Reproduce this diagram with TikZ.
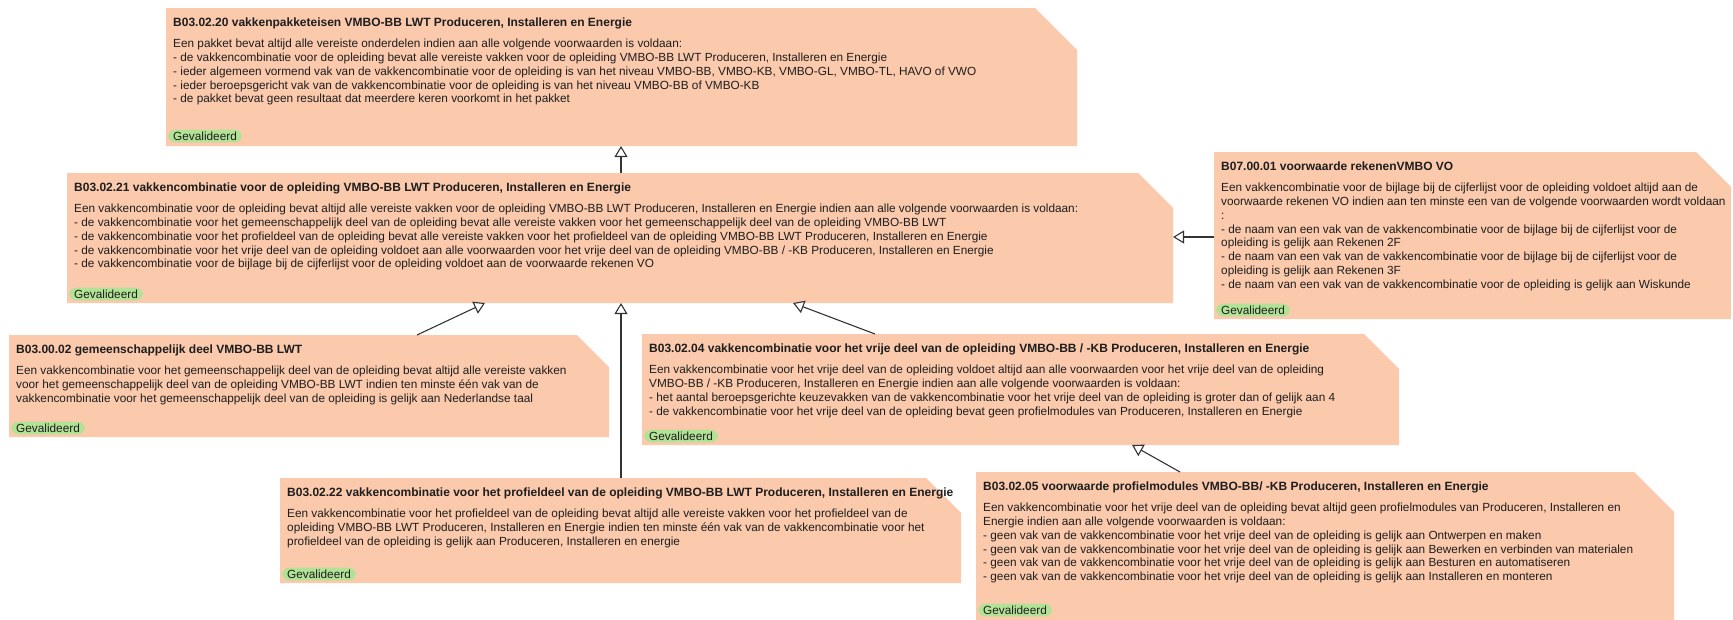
\documentclass[tikz,border=0pt]{standalone}
\usepackage{fontspec}
\setmainfont{Liberation Sans}
\usetikzlibrary{arrows.meta,calc}
\definecolor{boxfill}{RGB}{251,201,172}
\definecolor{badgegreen}{RGB}{178,226,150}
\definecolor{txt}{RGB}{30,30,30}
\newcommand\umlbox[6]{%
  \node[anchor=north west,minimum width=#4pt,minimum height=#5pt,inner sep=0pt,outer sep=0pt] (#1) at (#2,#3) {};
  \fill[boxfill] (#1.north west) -- ([xshift=-#6pt]#1.north east) -- ([yshift=-#6pt]#1.north east) -- (#1.south east) -- (#1.south west) -- cycle;}
\tikzset{
  ttl/.style={font=\fontsize{12}{14}\selectfont\bfseries, text=txt, inner sep=0pt, anchor=base west},
  bodytext/.style={font=\fontsize{11.8}{13.8}\selectfont, text=txt, align=left, inner sep=0pt, anchor=north west},
  gvbadge/.style={fill=badgegreen, rounded corners=7pt, font=\fontsize{11.8}{14}\selectfont, text=txt, inner xsep=5pt, inner ysep=2pt, anchor=west},
  gen/.style={draw=black!80, line width=1.1pt, -{Triangle[open, length=11pt, width=13pt, fill=white]}}
}
\begin{document}
\begin{tikzpicture}[x=1pt,y=-1pt]
\useasboundingbox (0,0) rectangle (1733,619);
% boxes
\umlbox{b1}{166}{8}{911}{138}{42}
\umlbox{b2}{67}{173}{1106}{130}{35}
\umlbox{b3}{1214}{152}{517}{167}{35}
\umlbox{b4}{9}{335}{600}{102}{32}
\umlbox{b5}{642}{334}{757}{111}{35}
\umlbox{b6}{280}{478}{681}{105}{35}
\umlbox{b7}{976}{472}{698}{170}{40}
% box 1
\node[ttl] (t1) at ($(b1.north west)+(7,18)$) {B03.02.20 vakkenpakketeisen VMBO-BB LWT Produceren, Installeren en Energie};
\node[bodytext] (d1) at ($(b1.north west)+(7,31)$) {Een pakket bevat altijd alle vereiste onderdelen indien aan alle volgende voorwaarden is voldaan:\\
- de vakkencombinatie voor de opleiding bevat alle vereiste vakken voor de opleiding VMBO-BB LWT Produceren, Installeren en Energie\\
- ieder algemeen vormend vak van de vakkencombinatie voor de opleiding is van het niveau VMBO-BB, VMBO-KB, VMBO-GL, VMBO-TL, HAVO of VWO\\
- ieder beroepsgericht vak van de vakkencombinatie voor de opleiding is van het niveau VMBO-BB of VMBO-KB\\
- de pakket bevat geen resultaat dat meerdere keren voorkomt in het pakket};
\node[gvbadge] (g1) at ($(b1.south west)+(2,-10)$) {Gevalideerd};
% box 2
\node[ttl] (t2) at ($(b2.north west)+(7,18)$) {B03.02.21 vakkencombinatie voor de opleiding VMBO-BB LWT Produceren, Installeren en Energie};
\node[bodytext] (d2) at ($(b2.north west)+(7,31)$) {Een vakkencombinatie voor de opleiding bevat altijd alle vereiste vakken voor de opleiding VMBO-BB LWT Produceren, Installeren en Energie indien aan alle volgende voorwaarden is voldaan:\\
- de vakkencombinatie voor het gemeenschappelijk deel van de opleiding bevat alle vereiste vakken voor het gemeenschappelijk deel van de opleiding VMBO-BB LWT\\
- de vakkencombinatie voor het profieldeel van de opleiding bevat alle vereiste vakken voor het profieldeel van de opleiding VMBO-BB LWT Produceren, Installeren en Energie\\
- de vakkencombinatie voor het vrije deel van de opleiding voldoet aan alle voorwaarden voor het vrije deel van de opleiding VMBO-BB / -KB Produceren, Installeren en Energie\\
- de vakkencombinatie voor de bijlage bij de cijferlijst voor de opleiding voldoet aan de voorwaarde rekenen VO};
\node[gvbadge] (g2) at ($(b2.south west)+(2,-9)$) {Gevalideerd};
% box 3
\node[ttl] (t3) at ($(b3.north west)+(7,18)$) {B07.00.01 voorwaarde rekenenVMBO VO};
\node[bodytext] (d3) at ($(b3.north west)+(7,31)$) {Een vakkencombinatie voor de bijlage bij de cijferlijst voor de opleiding voldoet altijd aan de\\
voorwaarde rekenen VO indien aan ten minste een van de volgende voorwaarden wordt voldaan\\
:\\
- de naam van een vak van de vakkencombinatie voor de bijlage bij de cijferlijst voor de\\
opleiding is gelijk aan Rekenen 2F\\
- de naam van een vak van de vakkencombinatie voor de bijlage bij de cijferlijst voor de\\
opleiding is gelijk aan Rekenen 3F\\
- de naam van een vak van de vakkencombinatie voor de opleiding is gelijk aan Wiskunde};
\node[gvbadge] (g3) at ($(b3.south west)+(2,-9)$) {Gevalideerd};
% box 4
\node[ttl] (t4) at ($(b4.north west)+(7,18)$) {B03.00.02 gemeenschappelijk deel VMBO-BB LWT};
\node[bodytext] (d4) at ($(b4.north west)+(7,31)$) {Een vakkencombinatie voor het gemeenschappelijk deel van de opleiding bevat altijd alle vereiste vakken\\
voor het gemeenschappelijk deel van de opleiding VMBO-BB LWT indien ten minste één vak van de\\
vakkencombinatie voor het gemeenschappelijk deel van de opleiding is gelijk aan Nederlandse taal};
\node[gvbadge] (g4) at ($(b4.south west)+(2,-9)$) {Gevalideerd};
% box 5
\node[ttl] (t5) at ($(b5.north west)+(7,18)$) {B03.02.04 vakkencombinatie voor het vrije deel van de opleiding VMBO-BB / -KB Produceren, Installeren en Energie};
\node[bodytext] (d5) at ($(b5.north west)+(7,31)$) {Een vakkencombinatie voor het vrije deel van de opleiding voldoet altijd aan alle voorwaarden voor het vrije deel van de opleiding\\
VMBO-BB / -KB Produceren, Installeren en Energie indien aan alle volgende voorwaarden is voldaan:\\
- het aantal beroepsgerichte keuzevakken van de vakkencombinatie voor het vrije deel van de opleiding is groter dan of gelijk aan 4\\
- de vakkencombinatie voor het vrije deel van de opleiding bevat geen profielmodules van Produceren, Installeren en Energie};
\node[gvbadge] (g5) at ($(b5.south west)+(2,-9)$) {Gevalideerd};
% box 6
\node[ttl] (t6) at ($(b6.north west)+(7,18)$) {B03.02.22 vakkencombinatie voor het profieldeel van de opleiding VMBO-BB LWT Produceren, Installeren en Energie};
\node[bodytext] (d6) at ($(b6.north west)+(7,31)$) {Een vakkencombinatie voor het profieldeel van de opleiding bevat altijd alle vereiste vakken voor het profieldeel van de\\
opleiding VMBO-BB LWT Produceren, Installeren en Energie indien ten minste één vak van de vakkencombinatie voor het\\
profieldeel van de opleiding is gelijk aan Produceren, Installeren en energie};
\node[gvbadge] (g6) at ($(b6.south west)+(2,-9)$) {Gevalideerd};
% box 7
\node[ttl] (t7) at ($(b7.north west)+(7,18)$) {B03.02.05 voorwaarde profielmodules VMBO-BB/ -KB Produceren, Installeren en Energie};
\node[bodytext] (d7) at ($(b7.north west)+(7,31)$) {Een vakkencombinatie voor het vrije deel van de opleiding bevat altijd geen profielmodules van Produceren, Installeren en\\
Energie indien aan alle volgende voorwaarden is voldaan:\\
- geen vak van de vakkencombinatie voor het vrije deel van de opleiding is gelijk aan Ontwerpen en maken\\
- geen vak van de vakkencombinatie voor het vrije deel van de opleiding is gelijk aan Bewerken en verbinden van materialen\\
- geen vak van de vakkencombinatie voor het vrije deel van de opleiding is gelijk aan Besturen en automatiseren\\
- geen vak van de vakkencombinatie voor het vrije deel van de opleiding is gelijk aan Installeren en monteren};
\node[gvbadge] (g7) at (978,610) {Gevalideerd};
% connectors
\draw[gen] ($(b2.north west)+(554,0)$) -- ($(b1.south west)+(455,0)$);
\draw[gen] ($(b3.north west)+(0,85)$) -- ($(b2.north east)+(0,64)$);
\draw[gen] ($(b4.north west)+(408,0)$) -- ($(b2.south west)+(418,0)$);
\draw[gen] ($(b6.north west)+(341,0)$) -- ($(b2.south west)+(554,0)$);
\draw[gen] ($(b5.north west)+(233,0)$) -- ($(b2.south west)+(726,0)$);
\draw[gen] ($(b7.north west)+(204,0)$) -- ($(b5.south west)+(490,0)$);
\end{tikzpicture}
\end{document}
